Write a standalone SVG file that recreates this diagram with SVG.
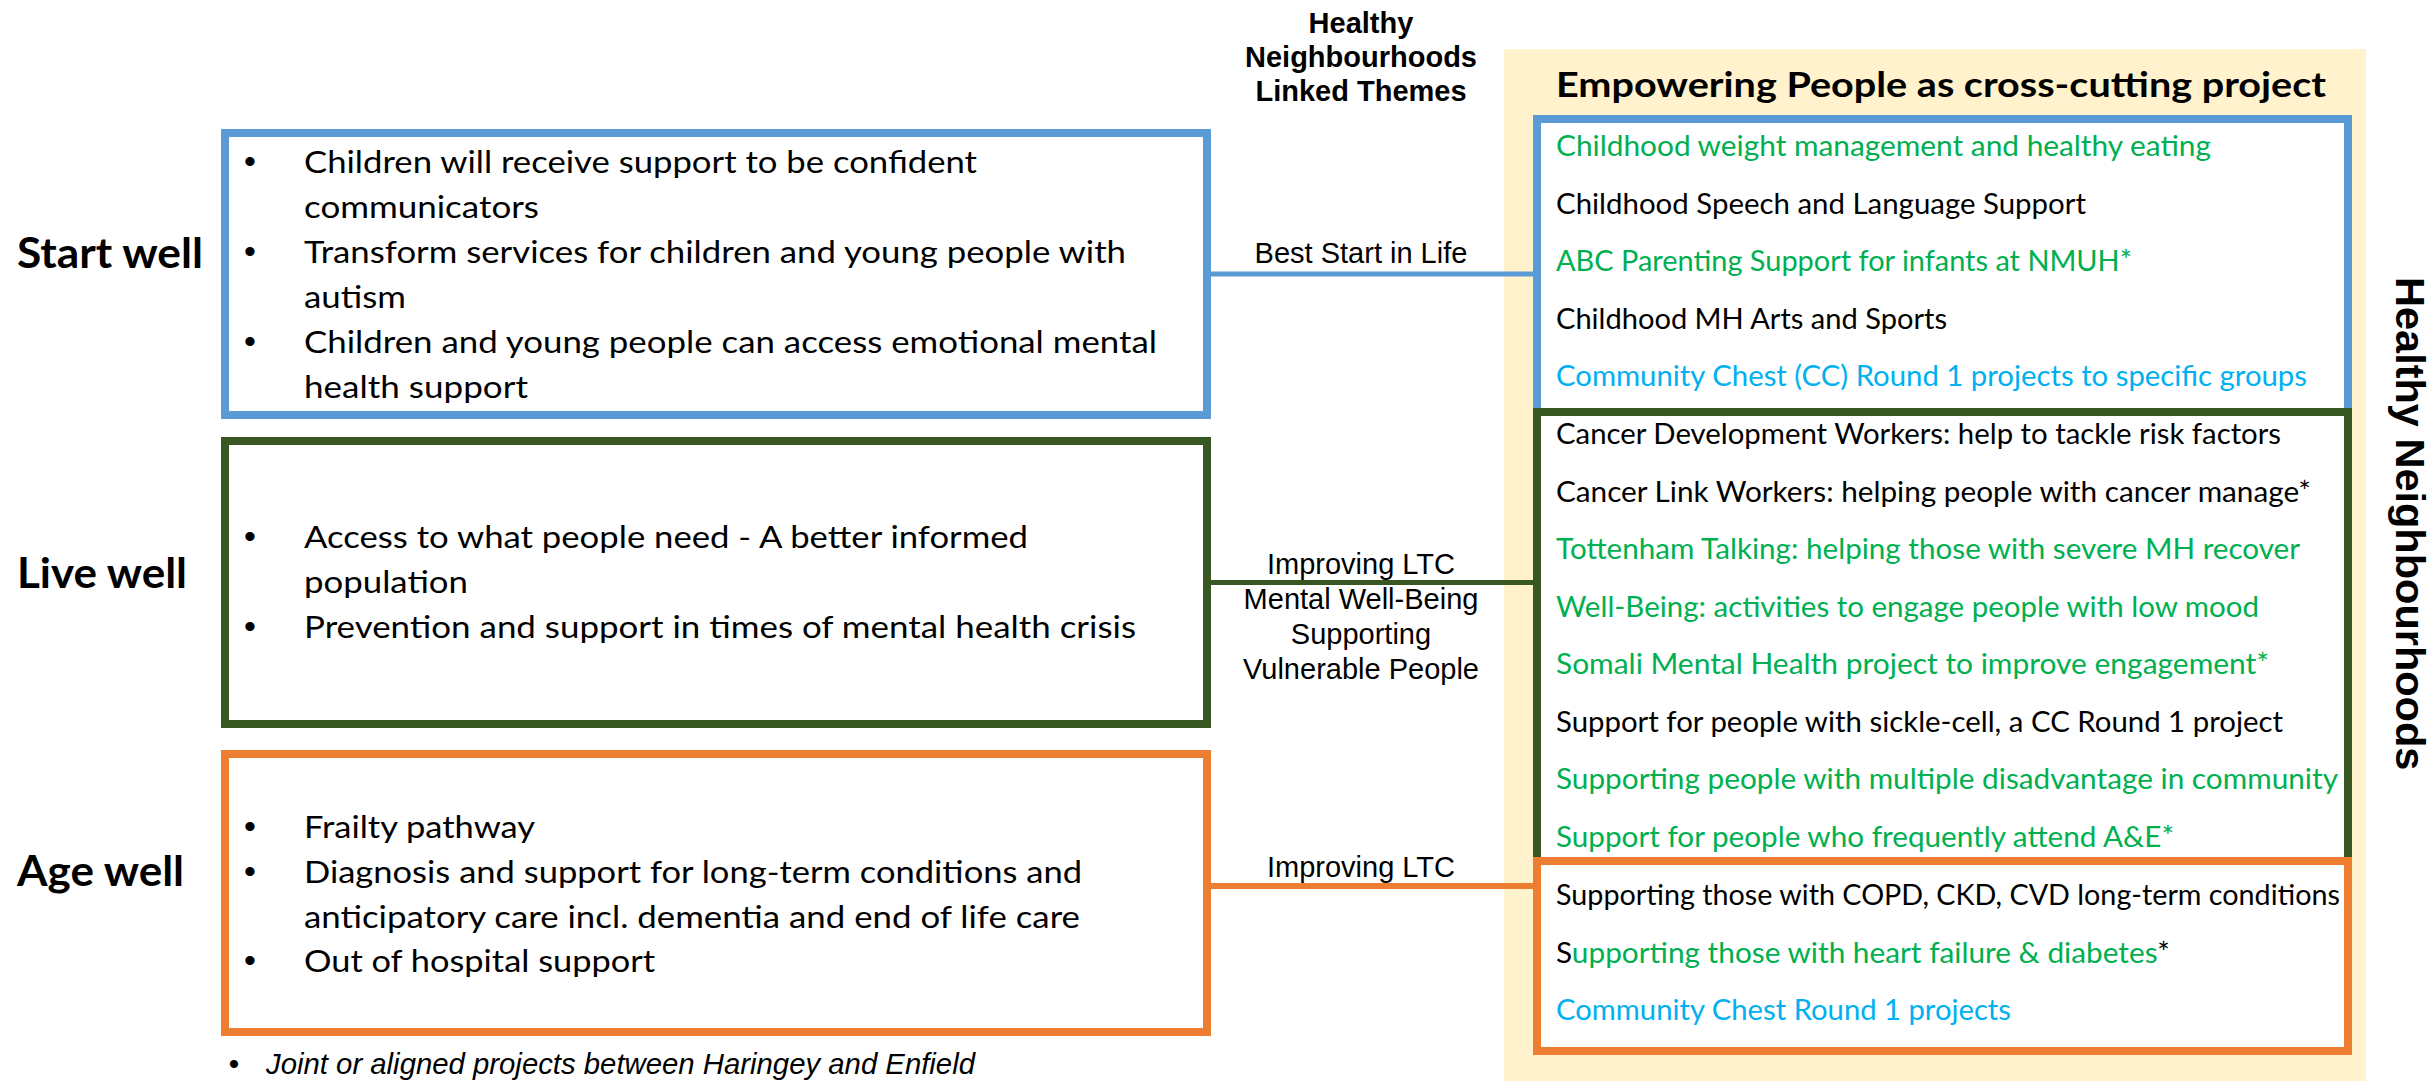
<svg xmlns="http://www.w3.org/2000/svg" width="2435" height="1081" viewBox="0 0 2435 1081">
<style>
.box{fill:#FFFFFF;stroke-width:8}
.blue{stroke:#5B9BD5}
.dg{stroke:#385723}
.or{stroke:#ED7D31}
.body{font-family:Lato,"Liberation Sans",sans-serif;font-size:31px;fill:#000}
.item{font-family:Lato,"Liberation Sans",sans-serif;font-size:28px;fill:#000}
.g{fill:#00B050}
.c{fill:#00B0F0}
.lbl{font-family:Lato,"Liberation Sans",sans-serif;font-size:42px;font-weight:bold;fill:#000}
.bul{font-family:"Liberation Sans",Arial,sans-serif;font-size:34px;fill:#000;text-anchor:middle}
.theme{font-family:"Liberation Sans",Arial,sans-serif;font-size:29px;fill:#000;text-anchor:middle}
.hdr{font-family:"Liberation Sans",Arial,sans-serif;font-size:29px;font-weight:bold;fill:#000;text-anchor:middle}
.conn{fill:none;stroke-width:5}
</style>
<rect id="panel" x="1504" y="49" width="862" height="1032" fill="#FFF2CC"/>
<g id="connectors">
<line class="conn blue" x1="1207" y1="274" x2="1537" y2="274"/>
<line class="conn dg" x1="1207" y1="582.5" x2="1537" y2="582.5"/>
<line class="conn or" x1="1207" y1="886" x2="1537" y2="886" style="stroke-width:6"/>
</g>
<g id="header">
<text class="hdr" x="1361" y="33">Healthy</text>
<text class="hdr" x="1361" y="67">Neighbourhoods</text>
<text class="hdr" x="1361" y="101">Linked Themes</text>
</g>
<g id="theme-labels">
<text class="theme" x="1361" y="263">Best Start in Life</text>
<text class="theme" x="1361" y="574">Improving LTC</text>
<text class="theme" x="1361" y="609">Mental Well-Being</text>
<text class="theme" x="1361" y="644">Supporting</text>
<text class="theme" x="1361" y="679">Vulnerable People</text>
<text class="theme" x="1361" y="877">Improving LTC</text>
</g>
<g id="start-well">
<text class="lbl" x="17" y="268" textLength="186" lengthAdjust="spacingAndGlyphs">Start well</text>
<rect class="box blue" x="225" y="133" width="982" height="282"/>
<text class="bul" x="250" y="173">•</text>
<text class="bul" x="250" y="263">•</text>
<text class="bul" x="250" y="353">•</text>
<text class="body" x="304" y="173" textLength="673" lengthAdjust="spacingAndGlyphs">Children will receive support to be confident</text>
<text class="body" x="304" y="218" textLength="235" lengthAdjust="spacingAndGlyphs">communicators</text>
<text class="body" x="304" y="263" textLength="822" lengthAdjust="spacingAndGlyphs">Transform services for children and young people with</text>
<text class="body" x="304" y="308" textLength="102" lengthAdjust="spacingAndGlyphs">autism</text>
<text class="body" x="304" y="353" textLength="853" lengthAdjust="spacingAndGlyphs">Children and young people can access emotional mental</text>
<text class="body" x="304" y="398" textLength="224" lengthAdjust="spacingAndGlyphs">health support</text>
</g>
<g id="live-well">
<text class="lbl" x="17" y="588" textLength="170" lengthAdjust="spacingAndGlyphs">Live well</text>
<rect class="box dg" x="225" y="441" width="982" height="283"/>
<text class="bul" x="250" y="548">•</text>
<text class="bul" x="250" y="638">•</text>
<text class="body" x="304" y="548" textLength="724" lengthAdjust="spacingAndGlyphs">Access to what people need - A better informed</text>
<text class="body" x="304" y="593" textLength="164" lengthAdjust="spacingAndGlyphs">population</text>
<text class="body" x="304" y="638" textLength="832" lengthAdjust="spacingAndGlyphs">Prevention and support in times of mental health crisis</text>
</g>
<g id="age-well">
<text class="lbl" x="17" y="886" textLength="167" lengthAdjust="spacingAndGlyphs">Age well</text>
<rect class="box or" x="225" y="754" width="982" height="278"/>
<text class="bul" x="250" y="838">•</text>
<text class="bul" x="250" y="883">•</text>
<text class="bul" x="250" y="972">•</text>
<text class="body" x="304" y="838" textLength="231" lengthAdjust="spacingAndGlyphs">Frailty pathway</text>
<text class="body" x="304" y="883" textLength="778" lengthAdjust="spacingAndGlyphs">Diagnosis and support for long-term conditions and</text>
<text class="body" x="304" y="928" textLength="776" lengthAdjust="spacingAndGlyphs">anticipatory care incl. dementia and end of life care</text>
<text class="body" x="304" y="972" textLength="351" lengthAdjust="spacingAndGlyphs">Out of hospital support</text>
</g>
<g id="empowering-title">
<text x="1556" y="97" textLength="770" lengthAdjust="spacingAndGlyphs" style="font-family:Lato,'Liberation Sans',sans-serif;font-size:35px;font-weight:bold;fill:#000">Empowering People as cross-cutting project</text>
</g>
<g id="start-projects">
<rect class="box blue" x="1537" y="119" width="811" height="293"/>
<text class="item g" x="1556" y="156" textLength="655" lengthAdjust="spacingAndGlyphs">Childhood weight management and healthy eating</text>
<text class="item" x="1556" y="213.5" textLength="530" lengthAdjust="spacingAndGlyphs">Childhood Speech and Language Support</text>
<text class="item g" x="1556" y="271" textLength="576" lengthAdjust="spacingAndGlyphs">ABC Parenting Support for infants at NMUH*</text>
<text class="item" x="1556" y="328.5" textLength="391" lengthAdjust="spacingAndGlyphs">Childhood MH Arts and Sports</text>
<text class="item c" x="1556" y="386" textLength="751" lengthAdjust="spacingAndGlyphs">Community Chest (CC) Round 1 projects to specific groups</text>
</g>
<g id="live-projects">
<rect class="box dg" x="1537" y="412" width="811" height="449"/>
<text class="item" x="1556" y="444" textLength="725" lengthAdjust="spacingAndGlyphs">Cancer Development Workers: help to tackle risk factors</text>
<text class="item" x="1556" y="501.5" textLength="755" lengthAdjust="spacingAndGlyphs">Cancer Link Workers: helping people with cancer manage*</text>
<text class="item g" x="1556" y="559" textLength="744" lengthAdjust="spacingAndGlyphs">Tottenham Talking: helping those with severe MH recover</text>
<text class="item g" x="1556" y="616.5" textLength="703" lengthAdjust="spacingAndGlyphs">Well-Being: activities to engage people with low mood</text>
<text class="item g" x="1556" y="674" textLength="713" lengthAdjust="spacingAndGlyphs">Somali Mental Health project to improve engagement*</text>
<text class="item" x="1556" y="731.5" textLength="727" lengthAdjust="spacingAndGlyphs">Support for people with sickle-cell, a CC Round 1 project</text>
<text class="item g" x="1556" y="789" textLength="782" lengthAdjust="spacingAndGlyphs">Supporting people with multiple disadvantage in community</text>
<text class="item g" x="1556" y="846.5" textLength="618" lengthAdjust="spacingAndGlyphs">Support for people who frequently attend A&amp;E*</text>
</g>
<g id="age-projects">
<rect class="box or" x="1537" y="861" width="811" height="190"/>
<text class="item" x="1556" y="905" textLength="784" lengthAdjust="spacingAndGlyphs">Supporting those with COPD, CKD, CVD long-term conditions</text>
<text class="item" x="1556" y="962.5" textLength="614" lengthAdjust="spacingAndGlyphs">S<tspan class="g">upporting those with heart failure &amp; diabetes</tspan>*</text>
<text class="item c" x="1556" y="1020" textLength="455" lengthAdjust="spacingAndGlyphs">Community Chest Round 1 projects</text>
</g>
<g id="side-title">
<text transform="translate(2396,277) rotate(90)" x="0" y="0" style="font-family:'Liberation Sans',Arial,sans-serif;font-size:41.5px;font-weight:bold;fill:#000">Healthy Neighbourhoods</text>
</g>
<g id="footnote">
<text x="234" y="1074" style="font-family:'Liberation Sans',Arial,sans-serif;font-size:30px;fill:#000;text-anchor:middle">•</text>
<text x="266" y="1074" textLength="709" lengthAdjust="spacingAndGlyphs" style="font-family:'Liberation Sans',Arial,sans-serif;font-size:29px;font-style:italic;fill:#000">Joint or aligned projects between Haringey and Enfield</text>
</g>
</svg>
